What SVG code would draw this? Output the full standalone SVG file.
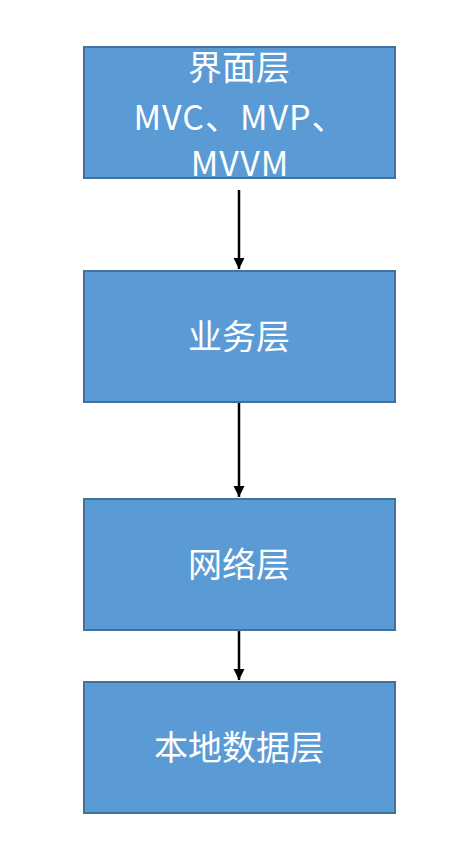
<svg xmlns="http://www.w3.org/2000/svg" width="456" height="844" viewBox="0 0 456 844">
<style>
.box{fill:#5b9bd5;stroke:#41719c;stroke-width:2}
.t{fill:#fff;font-family:"Noto Sans CJK SC","Noto Sans",sans-serif;font-size:34px;text-anchor:middle}
.c{stroke:#000;stroke-width:2.5;fill:none}
</style>
<defs>
<marker id="ah" viewBox="0 0 10 10" refX="10" refY="5" markerWidth="4.5" markerHeight="4.5" markerUnits="strokeWidth" orient="auto">
<path d="M0,0 L10,5 L0,10 Z" fill="#000"/>
</marker>
</defs>
<rect width="456" height="844" fill="#fff"/>
<g id="connectors">
<line class="c" x1="239" y1="190" x2="239" y2="269" marker-end="url(#ah)"/>
<line class="c" x1="239" y1="403" x2="239" y2="497" marker-end="url(#ah)"/>
<line class="c" x1="239" y1="631" x2="239" y2="680" marker-end="url(#ah)"/>
</g>
<g id="n1">
<rect class="box" x="84" y="47" width="311" height="131"/>
<text class="t" x="239" y="80">界面层</text>
<text class="t" x="240" y="130" letter-spacing="1">MVC、MVP、</text>
<text class="t" x="240" y="176" letter-spacing="1">MVVM</text>
</g>
<g id="n2">
<rect class="box" x="84" y="271" width="311" height="131"/>
<text class="t" x="239" y="349">业务层</text>
</g>
<g id="n3">
<rect class="box" x="84" y="499" width="311" height="131"/>
<text class="t" x="239" y="577">网络层</text>
</g>
<g id="n4">
<rect class="box" x="84" y="682" width="311" height="131"/>
<text class="t" x="239" y="760">本地数据层</text>
</g>
</svg>
